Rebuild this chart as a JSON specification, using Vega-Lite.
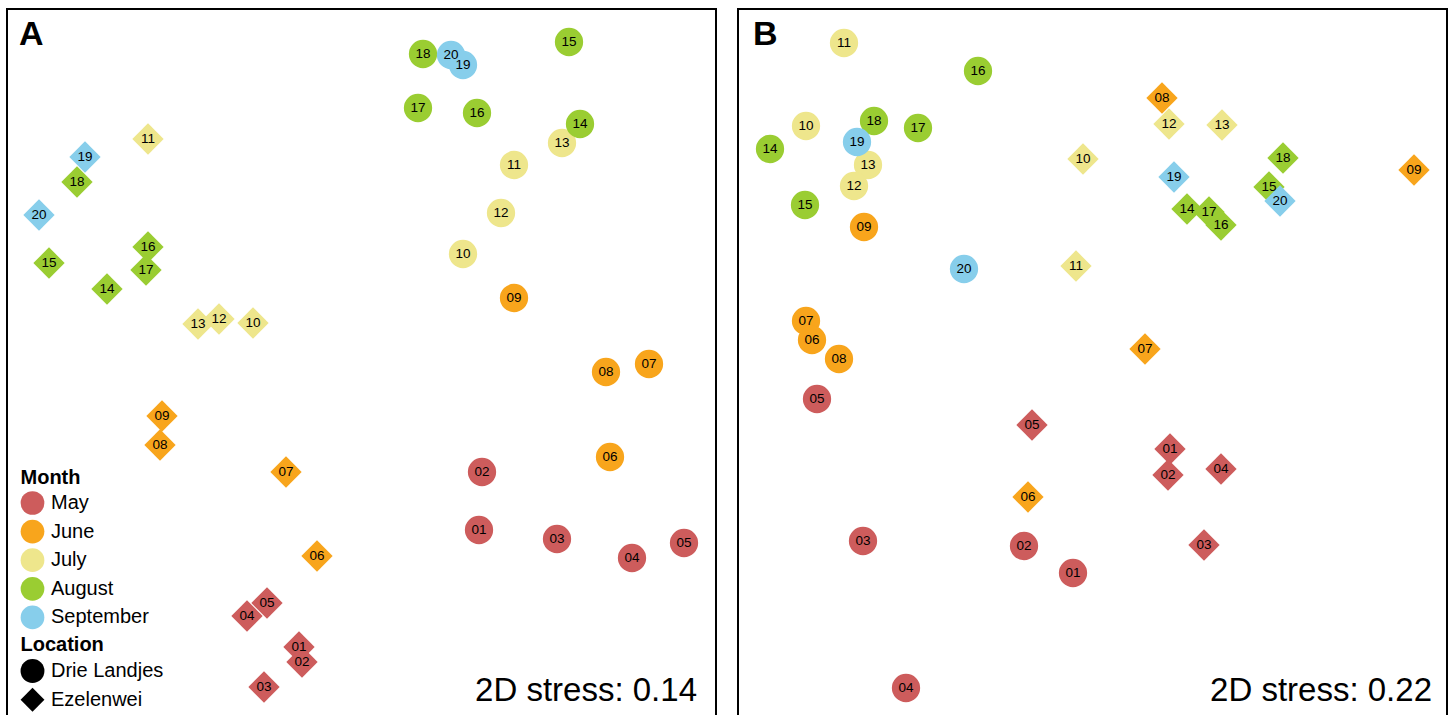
{
  "$schema": "https://vega.github.io/schema/vega-lite/v6.json",
  "padding": {"left": 6, "top": 8, "right": 4, "bottom": 0},
  "background": "white",
  "config": {
    "view": {"stroke": "black", "strokeWidth": 2},
    "font": "Liberation Sans",
    "text": {"font": "Liberation Sans"}
  },
  "spacing": 20,
  "datasets": {
    "A": [
      {"loc": "Drie Landjes", "month": "May", "id": "01", "x": 479, "y": 530},
      {"loc": "Drie Landjes", "month": "May", "id": "02", "x": 482, "y": 472},
      {"loc": "Drie Landjes", "month": "May", "id": "03", "x": 557, "y": 539},
      {"loc": "Drie Landjes", "month": "May", "id": "04", "x": 632, "y": 558},
      {"loc": "Drie Landjes", "month": "May", "id": "05", "x": 684, "y": 543},
      {"loc": "Drie Landjes", "month": "June", "id": "06", "x": 610, "y": 457},
      {"loc": "Drie Landjes", "month": "June", "id": "07", "x": 649, "y": 364},
      {"loc": "Drie Landjes", "month": "June", "id": "08", "x": 606, "y": 372},
      {"loc": "Drie Landjes", "month": "June", "id": "09", "x": 514, "y": 298},
      {"loc": "Drie Landjes", "month": "July", "id": "10", "x": 463, "y": 254},
      {"loc": "Drie Landjes", "month": "July", "id": "11", "x": 514, "y": 165},
      {"loc": "Drie Landjes", "month": "July", "id": "12", "x": 501, "y": 213},
      {"loc": "Drie Landjes", "month": "July", "id": "13", "x": 562, "y": 143},
      {"loc": "Drie Landjes", "month": "August", "id": "14", "x": 580, "y": 124},
      {"loc": "Drie Landjes", "month": "August", "id": "15", "x": 569, "y": 42},
      {"loc": "Drie Landjes", "month": "August", "id": "16", "x": 477, "y": 113},
      {"loc": "Drie Landjes", "month": "August", "id": "17", "x": 418, "y": 108},
      {"loc": "Drie Landjes", "month": "August", "id": "18", "x": 423, "y": 54},
      {"loc": "Drie Landjes", "month": "September", "id": "20", "x": 451, "y": 55},
      {"loc": "Drie Landjes", "month": "September", "id": "19", "x": 463, "y": 65},
      {"loc": "Ezelenwei", "month": "May", "id": "01", "x": 299, "y": 647},
      {"loc": "Ezelenwei", "month": "May", "id": "02", "x": 302, "y": 662},
      {"loc": "Ezelenwei", "month": "May", "id": "03", "x": 264, "y": 687},
      {"loc": "Ezelenwei", "month": "May", "id": "04", "x": 247, "y": 616},
      {"loc": "Ezelenwei", "month": "May", "id": "05", "x": 267, "y": 603},
      {"loc": "Ezelenwei", "month": "June", "id": "06", "x": 317, "y": 556},
      {"loc": "Ezelenwei", "month": "June", "id": "07", "x": 286, "y": 472},
      {"loc": "Ezelenwei", "month": "June", "id": "08", "x": 160, "y": 445},
      {"loc": "Ezelenwei", "month": "June", "id": "09", "x": 162, "y": 416},
      {"loc": "Ezelenwei", "month": "July", "id": "10", "x": 253, "y": 323},
      {"loc": "Ezelenwei", "month": "July", "id": "11", "x": 148, "y": 139},
      {"loc": "Ezelenwei", "month": "July", "id": "13", "x": 198, "y": 324},
      {"loc": "Ezelenwei", "month": "July", "id": "12", "x": 219, "y": 319},
      {"loc": "Ezelenwei", "month": "August", "id": "14", "x": 107, "y": 289},
      {"loc": "Ezelenwei", "month": "August", "id": "15", "x": 49, "y": 263},
      {"loc": "Ezelenwei", "month": "August", "id": "16", "x": 148, "y": 247},
      {"loc": "Ezelenwei", "month": "August", "id": "17", "x": 146, "y": 270},
      {"loc": "Ezelenwei", "month": "August", "id": "18", "x": 77, "y": 182},
      {"loc": "Ezelenwei", "month": "September", "id": "19", "x": 85, "y": 157},
      {"loc": "Ezelenwei", "month": "September", "id": "20", "x": 39, "y": 215}
    ],
    "B": [
      {"loc": "Drie Landjes", "month": "May", "id": "01", "x": 1073, "y": 573},
      {"loc": "Drie Landjes", "month": "May", "id": "02", "x": 1024, "y": 546},
      {"loc": "Drie Landjes", "month": "May", "id": "03", "x": 863, "y": 541},
      {"loc": "Drie Landjes", "month": "May", "id": "04", "x": 906, "y": 688},
      {"loc": "Drie Landjes", "month": "May", "id": "05", "x": 817, "y": 399},
      {"loc": "Drie Landjes", "month": "June", "id": "07", "x": 806, "y": 321},
      {"loc": "Drie Landjes", "month": "June", "id": "06", "x": 812, "y": 340},
      {"loc": "Drie Landjes", "month": "June", "id": "08", "x": 839, "y": 359},
      {"loc": "Drie Landjes", "month": "June", "id": "09", "x": 864, "y": 227},
      {"loc": "Drie Landjes", "month": "July", "id": "10", "x": 806, "y": 126},
      {"loc": "Drie Landjes", "month": "July", "id": "11", "x": 844, "y": 43},
      {"loc": "Drie Landjes", "month": "August", "id": "14", "x": 770, "y": 149},
      {"loc": "Drie Landjes", "month": "August", "id": "15", "x": 805, "y": 205},
      {"loc": "Drie Landjes", "month": "August", "id": "16", "x": 978, "y": 71},
      {"loc": "Drie Landjes", "month": "August", "id": "17", "x": 918, "y": 128},
      {"loc": "Drie Landjes", "month": "August", "id": "18", "x": 874, "y": 121},
      {"loc": "Drie Landjes", "month": "July", "id": "13", "x": 868, "y": 165},
      {"loc": "Drie Landjes", "month": "July", "id": "12", "x": 854, "y": 186},
      {"loc": "Drie Landjes", "month": "September", "id": "19", "x": 857, "y": 142},
      {"loc": "Drie Landjes", "month": "September", "id": "20", "x": 964, "y": 269},
      {"loc": "Ezelenwei", "month": "May", "id": "01", "x": 1170, "y": 449},
      {"loc": "Ezelenwei", "month": "May", "id": "02", "x": 1168, "y": 475},
      {"loc": "Ezelenwei", "month": "May", "id": "03", "x": 1204, "y": 545},
      {"loc": "Ezelenwei", "month": "May", "id": "04", "x": 1221, "y": 469},
      {"loc": "Ezelenwei", "month": "May", "id": "05", "x": 1032, "y": 425},
      {"loc": "Ezelenwei", "month": "June", "id": "06", "x": 1028, "y": 497},
      {"loc": "Ezelenwei", "month": "June", "id": "07", "x": 1145, "y": 349},
      {"loc": "Ezelenwei", "month": "June", "id": "09", "x": 1414, "y": 170},
      {"loc": "Ezelenwei", "month": "July", "id": "10", "x": 1083, "y": 159},
      {"loc": "Ezelenwei", "month": "July", "id": "11", "x": 1076, "y": 266},
      {"loc": "Ezelenwei", "month": "July", "id": "12", "x": 1169, "y": 124},
      {"loc": "Ezelenwei", "month": "June", "id": "08", "x": 1162, "y": 98},
      {"loc": "Ezelenwei", "month": "July", "id": "13", "x": 1222, "y": 125},
      {"loc": "Ezelenwei", "month": "August", "id": "14", "x": 1187, "y": 209},
      {"loc": "Ezelenwei", "month": "August", "id": "17", "x": 1209, "y": 212},
      {"loc": "Ezelenwei", "month": "August", "id": "16", "x": 1221, "y": 225},
      {"loc": "Ezelenwei", "month": "August", "id": "15", "x": 1269, "y": 187},
      {"loc": "Ezelenwei", "month": "August", "id": "18", "x": 1283, "y": 158},
      {"loc": "Ezelenwei", "month": "September", "id": "19", "x": 1174, "y": 177},
      {"loc": "Ezelenwei", "month": "September", "id": "20", "x": 1280, "y": 201}
    ]
  },
  "hconcat": [
    {
      "width": 709,
      "height": 708,
      "data": {"name": "A"},
      "encoding": {
        "x": {"field": "x", "type": "quantitative", "scale": {"domain": [7, 716], "nice": false, "zero": false}, "axis": null},
        "y": {"field": "y", "type": "quantitative", "scale": {"domain": [9, 717], "nice": false, "zero": false, "reverse": true}, "axis": null}
      },
      "layer": [
        {
          "transform": [{"filter": "datum.loc === 'Drie Landjes'"}],
          "mark": {"type": "point", "filled": true, "opacity": 1, "size": 800},
          "encoding": {
            "color": {"field": "month", "type": "nominal", "scale": {"domain": ["May", "June", "July", "August", "September"], "range": ["#CD5C5C", "#F8A51C", "#EEE68C", "#9ACD32", "#87CEEB"]},
              "legend": {"title": "Month", "orient": "none", "legendX": 13.5, "legendY": 458.5, "padding": 0, "titleFontSize": 20, "titleFontWeight": "bold", "titleColor": "black", "labelFontSize": 20, "labelColor": "black", "symbolType": "circle", "symbolSize": 562, "symbolStrokeWidth": 0, "symbolOpacity": 1, "rowPadding": 4.6, "titlePadding": 3.5, "labelOffset": 6.5}},
            "shape": {"field": "loc", "type": "nominal", "scale": {"domain": ["Drie Landjes", "Ezelenwei"], "range": ["circle", "diamond"]},
              "legend": {"title": "Location", "orient": "none", "legendX": 13.5, "legendY": 625.5, "padding": 0, "titleFontSize": 20, "titleFontWeight": "bold", "titleColor": "black", "labelFontSize": 20, "labelColor": "black", "symbolSize": 570, "symbolFillColor": "black", "symbolStrokeWidth": 0, "symbolOpacity": 1, "rowPadding": 4.8, "titlePadding": 4.5, "labelOffset": 6.5}}
          }
        },
        {
          "transform": [{"filter": "datum.loc === 'Ezelenwei'"}],
          "mark": {"type": "point", "filled": true, "opacity": 1, "size": 980},
          "encoding": {
            "color": {"field": "month", "type": "nominal"},
            "shape": {"field": "loc", "type": "nominal"}
          }
        },
        {
          "mark": {"type": "text", "fontSize": 13.5, "color": "black", "baseline": "middle", "align": "center"},
          "encoding": {"text": {"field": "id"}}
        },
        {
          "data": {"values": [{"lab": "A", "x": 19, "y": 45}]},
          "mark": {"type": "text", "fontSize": 34, "fontWeight": "bold", "color": "black", "align": "left", "baseline": "alphabetic"},
          "encoding": {"text": {"field": "lab"}}
        },
        {
          "data": {"values": [{"lab": "2D stress: 0.14", "x": 697, "y": 701}]},
          "mark": {"type": "text", "fontSize": 33, "color": "black", "align": "right", "baseline": "alphabetic"},
          "encoding": {"text": {"field": "lab"}}
        }
      ]
    },
    {
      "width": 709,
      "height": 708,
      "data": {"name": "B"},
      "encoding": {
        "x": {"field": "x", "type": "quantitative", "scale": {"domain": [738, 1447], "nice": false, "zero": false}, "axis": null},
        "y": {"field": "y", "type": "quantitative", "scale": {"domain": [9, 717], "nice": false, "zero": false, "reverse": true}, "axis": null}
      },
      "layer": [
        {
          "transform": [{"filter": "datum.loc === 'Drie Landjes'"}],
          "mark": {"type": "point", "filled": true, "opacity": 1, "size": 800},
          "encoding": {
            "color": {"field": "month", "type": "nominal", "legend": null},
            "shape": {"field": "loc", "type": "nominal", "legend": null}
          }
        },
        {
          "transform": [{"filter": "datum.loc === 'Ezelenwei'"}],
          "mark": {"type": "point", "filled": true, "opacity": 1, "size": 980},
          "encoding": {
            "color": {"field": "month", "type": "nominal", "legend": null},
            "shape": {"field": "loc", "type": "nominal", "legend": null}
          }
        },
        {
          "mark": {"type": "text", "fontSize": 13.5, "color": "black", "baseline": "middle", "align": "center"},
          "encoding": {"text": {"field": "id"}}
        },
        {
          "data": {"values": [{"lab": "B", "x": 753, "y": 45}]},
          "mark": {"type": "text", "fontSize": 34, "fontWeight": "bold", "color": "black", "align": "left", "baseline": "alphabetic"},
          "encoding": {"text": {"field": "lab"}}
        },
        {
          "data": {"values": [{"lab": "2D stress: 0.22", "x": 1432, "y": 701}]},
          "mark": {"type": "text", "fontSize": 33, "color": "black", "align": "right", "baseline": "alphabetic"},
          "encoding": {"text": {"field": "lab"}}
        }
      ]
    }
  ],
  "resolve": {
    "scale": {"x": "independent", "y": "independent"},
    "legend": {"color": "independent", "shape": "independent"}
  }
}
